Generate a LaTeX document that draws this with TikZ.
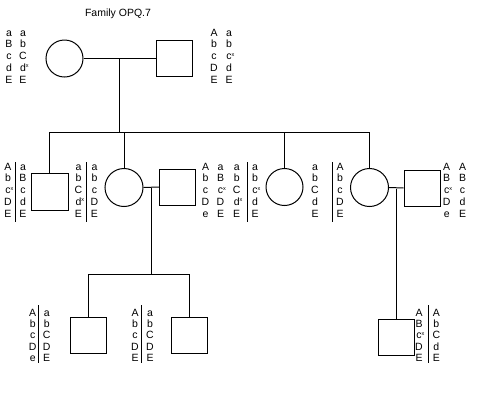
\documentclass[tikz,border=0pt]{standalone}
\usepackage{fontspec}
\setmainfont{Liberation Sans}
\newcommand{\xs}{\rlap{\raisebox{3.4pt}{\fontsize{5.5}{6}\selectfont x}}}
\tikzset{
  gl/.style={anchor=base, inner sep=0pt, font=\fontsize{10.5}{12}\selectfont},
  male/.style={draw, line width=1pt, rectangle, minimum size=36pt, inner sep=0pt},
  female/.style={draw, line width=1pt, circle, inner sep=0pt},
  link/.style={line width=1pt},
  bar/.style={line width=1pt}
}
\newcommand{\gcol}[5]{%
  \foreach \t [count=\i] in {#5} {
    \node[gl] (#1-\i) at (#2, {#3+(\i-1)*#4}) {\t};
  }}
\begin{document}
\begin{tikzpicture}[x=1pt,y=-1pt]
\useasboundingbox (0,0) rectangle (500,400);
\node[gl] (title) at (118,16.5) {Family OPQ.7};
% generation I
\node[female, minimum size=37pt] (mo) at (64.5,58.5) {};
\node[male] (fa) at (174.5,58.5) {};
\coordinate (m1) at (119,58.5);
\coordinate (sib) at (119,132);
\draw[link] (mo.east) -- (fa.west);
\draw[link] (m1) -- (sib);
% generation II
\node[male, minimum size=37pt] (s1) at (49.5,192) {};
\node[female, minimum size=38pt] (d1) at (124,187.5) {};
\node[male] (h1) at (177.5,187) {};
\node[female, minimum size=37pt] (d2) at (284.5,187) {};
\node[female, minimum size=38pt] (d3) at (369.5,187.5) {};
\node[male] (h2) at (422,188) {};
\draw[link] (s1.north) -- (s1.north |- sib) -- (d3.north |- sib) -- (d3.north);
\draw[link] (d1.north) -- (d1.north |- sib);
\draw[link] (d2.north) -- (d2.north |- sib);
\coordinate (m2) at (151,188);
\coordinate (gsib) at (151,274);
\draw[link] (d1.east) -- (h1.west);
\draw[link] (m2) -- (gsib);
\coordinate (m3) at (396,189);
\draw[link] (d3.east) -- (h2.west);
% generation III
\node[male] (g1) at (88.5,335) {};
\node[male] (g2) at (189.5,335) {};
\node[male] (g3) at (396,337.5) {};
\draw[link] (g1.north) -- (g1.north |- gsib) -- (g2.north |- gsib) -- (g2.north);
\draw[link] (m3) -- (g3.north);
% genotypes, generation I
\gcol{moa}{9}{36}{11.75}{a,B,c,d,E}
\gcol{mob}{23}{36}{11.75}{a,b,C,d\xs,E}
\gcol{faa}{214}{36}{11.75}{A,b,c,D,E}
\gcol{fab}{229}{36}{11.75}{a,b,c\xs,d,E}
% generation II
\gcol{s1a}{8}{170}{11.75}{A,b,c\xs,D,E}
\gcol{s1b}{23}{170}{11.75}{a,B,c,d,E}
\draw[bar] (15.7,162) -- (15.7,222);
\gcol{d1a}{78.5}{170}{11.75}{a,b,C,d\xs,E}
\gcol{d1b}{94.5}{170}{11.75}{a,b,c,D,E}
\draw[bar] (86.7,162) -- (86.7,222);
\gcol{h1a}{205.5}{170}{11.75}{A,b,c,D,e}
\gcol{h1b}{220.5}{170}{11.75}{a,B,c\xs,D,E}
\gcol{d2a}{236.7}{170}{11.75}{a,b,C,d\xs,E}
\gcol{d2b}{255}{170}{11.75}{a,b,c\xs,d,E}
\draw[bar] (247.3,162) -- (247.3,222);
\gcol{d3a}{315}{170}{11.75}{a,b,C,d,E}
\gcol{d3b}{340}{170}{11.75}{A,b,c,D,E}
\draw[bar] (332.7,162) -- (332.7,222);
\gcol{h2a}{446.7}{170}{11.75}{A,B,c\xs,D,e}
\gcol{h2b}{462.5}{170}{11.75}{A,B,c,d,E}
% generation III
\gcol{g1a}{32.7}{316}{11.4}{A,b,c,D,e}
\gcol{g1b}{46.7}{316}{11.4}{a,b,C,D,E}
\draw[bar] (38.3,305) -- (38.3,363);
\gcol{g2a}{135}{316}{11.4}{A,b,c,D,E}
\gcol{g2b}{150}{316}{11.4}{a,b,C,D,E}
\draw[bar] (141.7,305) -- (141.7,363);
\gcol{g3a}{419}{316}{11.4}{A,B,c\xs,D,E}
\gcol{g3b}{436.3}{316}{11.4}{A,b,C,d,E}
\draw[bar] (428.3,305) -- (428.3,363);
\end{tikzpicture}
\end{document}
